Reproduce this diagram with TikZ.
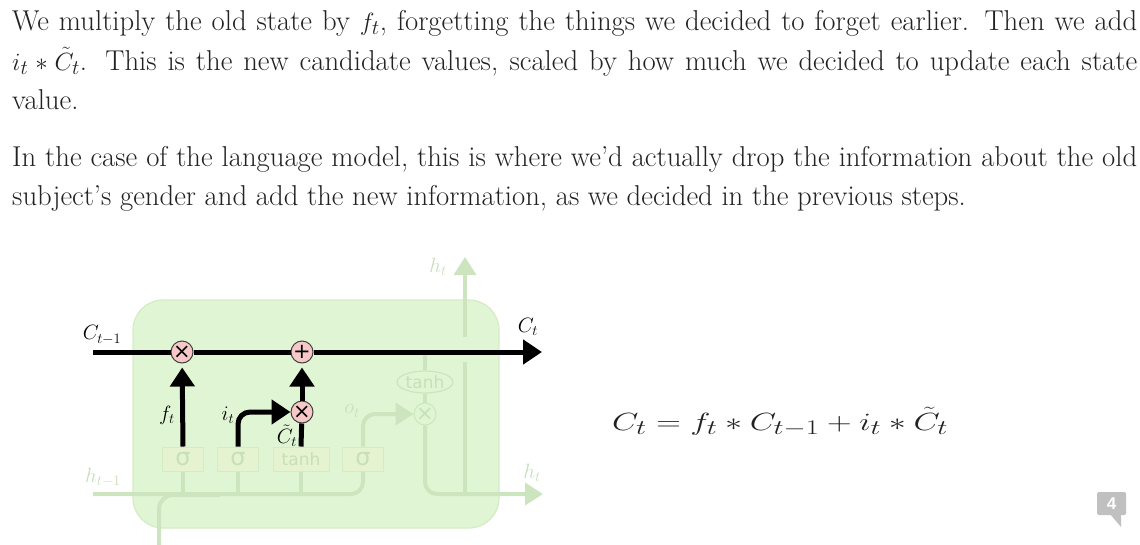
\documentclass[tikz,border=0pt]{standalone}
\usepackage{amsmath}
\usepackage{graphicx}
\usepackage{fontspec}
\newfontfamily\gatefont{DejaVu Sans}
\newfontfamily\badgefont{Liberation Sans}
\usetikzlibrary{arrows.meta,shapes.geometric}
\definecolor{boxfill}{RGB}{224,245,212}
\definecolor{boxline}{RGB}{212,236,198}
\definecolor{fline}{RGB}{204,229,190}
\definecolor{ftext}{RGB}{198,224,184}
\definecolor{gatefill}{RGB}{230,243,208}
\definecolor{pinkc}{RGB}{246,200,200}
\definecolor{txt}{RGB}{34,34,34}
\definecolor{badge}{RGB}{192,192,192}
\tikzset{
  para/.style={anchor=base west, inner sep=0pt, text=txt, font=\fontsize{28.7}{34}\selectfont},
  fl/.style={draw=fline, line width=4pt},
  bk/.style={draw=black, line width=5pt},
  arr/.style={-{Triangle[width=24pt,length=19pt]}},
  farr/.style={-{Triangle[width=22pt,length=18pt]}},
  gate/.style={draw=boxline, fill=gatefill, line width=1pt, minimum width=41pt, minimum height=24pt, inner sep=0pt, text=ftext, font=\gatefont\fontsize{24}{24}\selectfont},
  pw/.style={circle, draw=black!75, fill=pinkc, line width=1pt, minimum size=22pt, inner sep=0pt, font=\gatefont\fontsize{21}{21}\selectfont},
  fpw/.style={circle, draw=fline, fill=boxfill, line width=1pt, minimum size=22pt, inner sep=0pt, text=ftext, font=\gatefont\fontsize{21}{21}\selectfont},
  blab/.style={inner sep=0pt, text=black, font=\fontsize{22.5}{22}\selectfont},
  slab/.style={inner sep=0pt, text=black, font=\fontsize{20}{20}\selectfont},
  flab/.style={inner sep=0pt, text=ftext, font=\fontsize{22}{22}\selectfont},
}
\begin{document}
\begin{tikzpicture}[x=1pt,y=-1pt]
\useasboundingbox (0,0) rectangle (1140,544);
% text
\node[para] (p1) at (12,30) {\makebox[1125pt][s]{We multiply the old state by $f_t$, forgetting the things we decided to forget earlier. Then we add}};
\node[para] (p2) at (12,70) {\makebox[1125pt][s]{$i_t * \tilde{C}_t$. This is the new candidate values, scaled by how much we decided to update each state}};
\node[para] (p3) at (12,109) {value.};
\node[para] (p4) at (12,166) {\makebox[1125pt][s]{In the case of the language model, this is where we'd actually drop the information about the old}};
\node[para] (p5) at (12,205) {subject's gender and add the new information, as we decided in the previous steps.};
% equation
\node[anchor=base west, inner sep=0pt, text=txt, font=\fontsize{30}{34}\selectfont] (eq) at (612,430) {\resizebox{336pt}{\height}{$C_t = f_t * C_{t-1} + i_t * \tilde{C}_t$}};
% cell box
\node[draw=boxline, fill=boxfill, rounded corners=30pt, line width=1.2pt, minimum width=366pt, minimum height=228pt] (cell) at (316,414) {};
% coordinates
\coordinate (cin) at (93,352);
\coordinate (cout) at (542,352);
\coordinate (hin) at (93,494);
\coordinate (hout) at (543,494);
\coordinate (xin) at (159,548);
\coordinate (hup) at (465,494);
\coordinate (hgap1) at (465,362);
\coordinate (hgap2) at (465,337);
\coordinate (htop) at (465,257);
% faded gates
\node[gate] (s1) at (183,459) {σ};
\node[gate] (s2) at (238,459) {σ};
\node[gate, minimum width=56pt, font=\gatefont\fontsize{17}{17}\selectfont] (th) at (301,459) {tanh};
\node[gate] (s4) at (363,459) {σ};
\node[ellipse, draw=fline, fill=boxfill, line width=1.2pt, minimum width=56pt, minimum height=22pt, inner sep=0pt, text=ftext, font=\gatefont\fontsize{17}{17}\selectfont] (th2) at (425,382) {tanh};
\node[fpw] (m3) at (425,414) {×};
% faded lines
\draw[fl, rounded corners=12pt] (hin) -- (363,494) -- (s4.south);
\draw[fl] (s1.south) -- (s1.south |- hin);
\draw[fl] (s2.south) -- (s2.south |- hin);
\draw[fl] (th.south) -- (th.south |- hin);
\draw[fl, rounded corners=14pt] (xin) -- (159,495) -- (220,495);
\draw[fl, rounded corners=12pt, farr] (s4.north) |- (m3);
\draw[fl] (th2.north) -- (th2.north |- cin);
\draw[fl] (th2.south) -- (m3.north);
\draw[fl, rounded corners=12pt, farr] (m3.south) |- (hout);
\draw[fl] (hup) -- (hgap1);
\draw[fl, farr] (hgap2) -- (htop);
% faded labels
\node[flab] (lhtm1) at (103,477) {$h_{t-1}$};
\node[flab] (lht1) at (438,267) {$h_t$};
\node[flab] (lht2) at (532,473) {$h_t$};
\node[flab] (lot) at (352,411) {$o_t$};
\node[flab] (lxt) at (137,556) {$x_t$};
% pointwise ops
\node[pw] (m1) at (182,352) {×};
\node[pw] (plus) at (302,352) {+};
\node[pw] (m2) at (302,412) {×};
% black lines
\draw[bk, arr] (cin) -- (m1) -- (plus) -- (cout);
\draw[bk, arr, shorten >=4pt] (s1.north) -- (m1);
\draw[bk, arr, rounded corners=12pt] (s2.north) |- (m2);
\draw[bk] (th.north) -- (m2);
\draw[bk, arr, shorten >=4pt] (m2) -- (plus);
% black labels
\node[blab] (lctm1) at (102,335) {$C_{t-1}$};
\node[blab] (lct) at (528,327) {$C_t$};
\node[slab] (lft) at (167,415) {$f_t$};
\node[slab] (lit) at (228,415) {$i_t$};
\node[slab] (lct2) at (287,436) {$\tilde{C}_t$};
% badge
\node[fill=badge, minimum width=29pt, minimum height=23pt, rounded corners=1.5pt, inner sep=0pt, text=white, font=\badgefont\bfseries\fontsize{17}{17}\selectfont] (badge) at (1111.5,503.5) {4};
\fill[badge] (1110,514) -- (1121,527) -- (1121,514) -- cycle;
\end{tikzpicture}
\end{document}
